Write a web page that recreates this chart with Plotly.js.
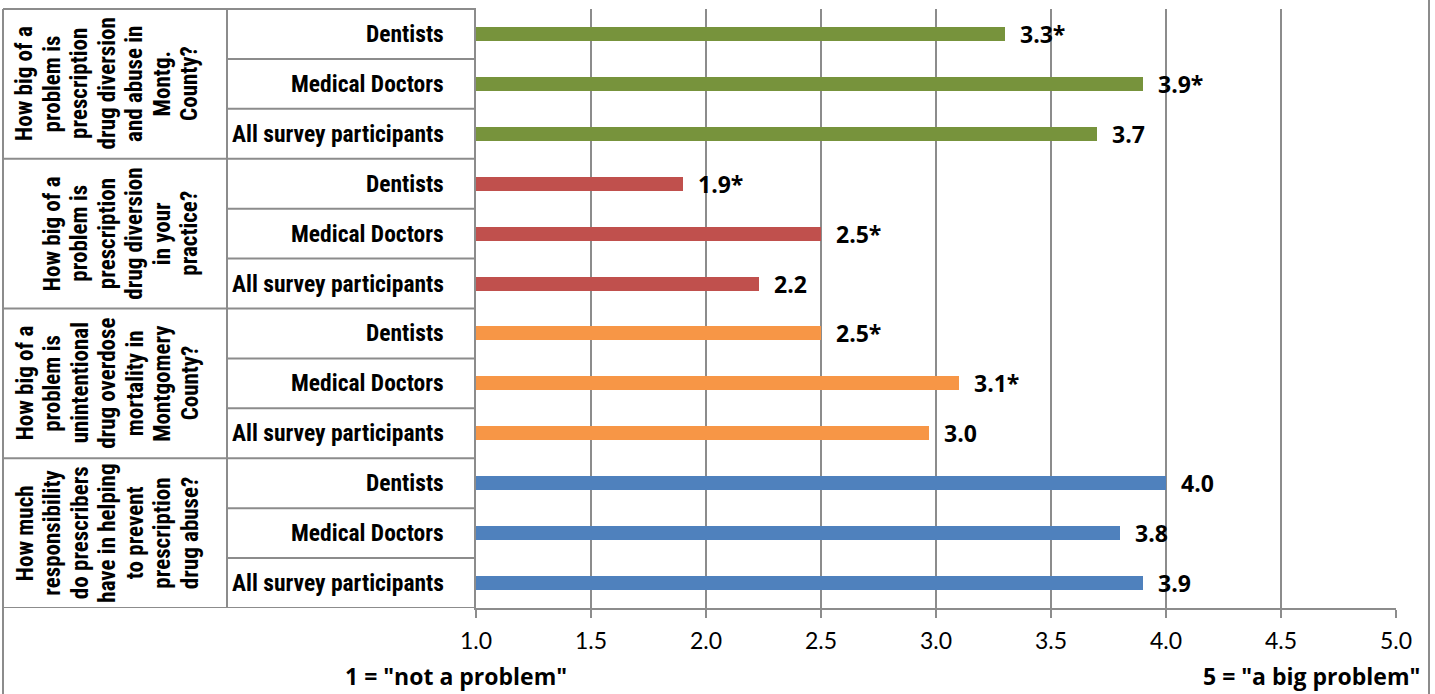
<!DOCTYPE html>
<html>
<head>
<meta charset="utf-8">
<script src="https://cdn.plot.ly/plotly-3.0.1.min.js"></script>
<style>
  html, body { margin: 0; padding: 0; background: #fff; }
  #chart { width: 1435px; height: 694px; }
</style>
</head>
<body>
<div id="chart"></div>
<script>
// ---------- data ----------
const categories = ["Dentists", "Medical Doctors", "All survey participants"];

const questions = [
  "How big of a<br>problem is<br>prescription<br>drug diversion<br>and abuse in<br>Montg.<br>County?",
  "How big of a<br>problem is<br>prescription<br>drug diversion<br>in your<br>practice?",
  "How big of a<br>problem is<br>unintentional<br>drug overdose<br>mortality in<br>Montgomery<br>County?",
  "How much<br>responsibility<br>do prescribers<br>have in helping<br>to prevent<br>prescription<br>drug abuse?"
];

const abuseMontgValues = [3.3, 3.9, 3.7];
const abuseMontgLabels = ["3.3*", "3.9*", "3.7"];

const diversionPracticeValues = [1.9, 2.5, 2.23];
const diversionPracticeLabels = ["1.9*", "2.5*", "2.2"];

const overdoseMortalityValues = [2.5, 3.1, 2.97];
const overdoseMortalityLabels = ["2.5*", "3.1*", "3.0"];

const responsibilityValues = [4.0, 3.8, 3.9];
const responsibilityLabels = ["4.0", "3.8", "3.9"];

const groupColors = ["#77933C", "#C0504D", "#F79646", "#4F81BD"];

const xTickVals = [1.0, 1.5, 2.0, 2.5, 3.0, 3.5, 4.0, 4.5, 5.0];
const xTickText = ["1.0", "1.5", "2.0", "2.5", "3.0", "3.5", "4.0", "4.5", "5.0"];

const xTitleLow = '1 = "not a problem"';
const xTitleHigh = '5 = "a big problem"';

// ---------- layout geometry ----------
const W = 1435, H = 694;
const plotL = 476, plotR = 1396, plotT = 9, plotB = 608;
const colSplit = 227, tableLeft = 3, outerRight = 1429;
const px2x = p => (p - plotL) / (plotR - plotL);
const px2y = p => (plotB - p) / (plotB - plotT);

const groupValues = [abuseMontgValues, diversionPracticeValues, overdoseMortalityValues, responsibilityValues];
const groupLabels = [abuseMontgLabels, diversionPracticeLabels, overdoseMortalityLabels, responsibilityLabels];
const nCat = categories.length;
const nRows = groupValues.length * nCat;

const gridCol = "#8C8C8C";
const narrowFam = "Liberation Sans Narrow, Roboto Condensed, Liberation Sans, Arial";
const catFont = {family: narrowFam, size: 23.5, color: "#000", weight: 700};
const qFont = {family: narrowFam, size: 23, color: "#000", weight: 700};
const valueFont = {family: "Open Sans, Lato, sans-serif", size: 23, color: "#000", weight: 700};
const titleFont = {family: "Open Sans, Lato, sans-serif", size: 23, color: "#000", weight: 700};

const traces = groupValues.map((vals, g) => ({
  type: "bar",
  orientation: "h",
  x: vals,
  y: vals.map((v, i) => g * nCat + i),
  width: 0.28,
  marker: {color: groupColors[g], line: {width: 0}},
  hoverinfo: "x",
  showlegend: false
}));

const annotations = [];
const shapes = [];

groupValues.forEach((vals, g) => {
  vals.forEach((v, i) => {
    const row = g * nCat + i;
    annotations.push({
      x: v, y: row, xref: "x", yref: "y",
      text: groupLabels[g][i], showarrow: false,
      xanchor: "left", yanchor: "middle", xshift: 13,
      font: valueFont
    });
    annotations.push({
      x: px2x(446), y: row, xref: "paper", yref: "y",
      text: categories[i], showarrow: false,
      xanchor: "right", yanchor: "middle",
      font: catFont
    });
  });
  const lines = questions[g].split("<br>");
  lines.forEach((ln, k) => {
    const cx = 190 - (lines.length - 1 - k) * 27.5;
    annotations.push({
      x: px2x(cx), y: g * nCat + (nCat - 1) / 2, xref: "paper", yref: "y",
      text: ln, showarrow: false, textangle: -90,
      xanchor: "center", yanchor: "middle", align: "center",
      font: qFont
    });
  });
});

annotations.push({
  x: px2x(456), y: px2y(676), xref: "paper", yref: "paper",
  text: xTitleLow, showarrow: false,
  xanchor: "center", yanchor: "middle", font: titleFont
});
annotations.push({
  x: px2x(1422), y: px2y(676), xref: "paper", yref: "paper",
  text: xTitleHigh, showarrow: false,
  xanchor: "right", yanchor: "middle", font: titleFont
});

const line = {color: gridCol, width: 2};
shapes.push({type: "line", xref: "paper", yref: "paper", x0: px2x(tableLeft), x1: px2x(tableLeft), y0: px2y(plotT), y1: px2y(H + 5), line});
shapes.push({type: "line", xref: "paper", yref: "paper", x0: px2x(outerRight), x1: px2x(outerRight), y0: px2y(-5), y1: px2y(H + 5), line});
shapes.push({type: "line", xref: "paper", yref: "paper", x0: px2x(tableLeft), x1: px2x(plotL), y0: 1, y1: 1, line});
shapes.push({type: "line", xref: "paper", yref: "paper", x0: px2x(colSplit), x1: px2x(colSplit), y0: 0, y1: 1, line});
for (let r = 1; r <= nRows; r++) {
  const yb = r - 0.5;
  const isGroup = r % nCat === 0;
  shapes.push({
    type: "line", xref: "paper", yref: "y",
    x0: px2x(isGroup ? tableLeft : colSplit), x1: px2x(plotL),
    y0: yb, y1: yb, line
  });
}

const layout = {
  width: W, height: H,
  margin: {l: plotL, r: W - plotR, t: plotT, b: H - plotB, pad: 0},
  paper_bgcolor: "#fff", plot_bgcolor: "#fff",
  bargap: 0,
  xaxis: {
    range: [1, 5], tickvals: xTickVals, ticktext: xTickText,
    showgrid: true, gridcolor: gridCol, gridwidth: 2,
    showline: true, linecolor: gridCol, linewidth: 2,
    ticks: "outside", ticklen: 8, tickwidth: 2, tickcolor: gridCol,
    tickfont: {family: "Lato, Open Sans, sans-serif", size: 23, color: "#000"},
    ticklabelstandoff: 3,
    zeroline: false, fixedrange: true
  },
  yaxis: {
    range: [nRows - 0.5, -0.5],
    showticklabels: false, ticks: "", showgrid: false, zeroline: false,
    showline: true, linecolor: gridCol, linewidth: 2, fixedrange: true
  },
  shapes, annotations,
  font: {family: "Lato, sans-serif"}
};

Plotly.newPlot("chart", traces, layout, {displayModeBar: false, staticPlot: true});
</script>
</body>
</html>
